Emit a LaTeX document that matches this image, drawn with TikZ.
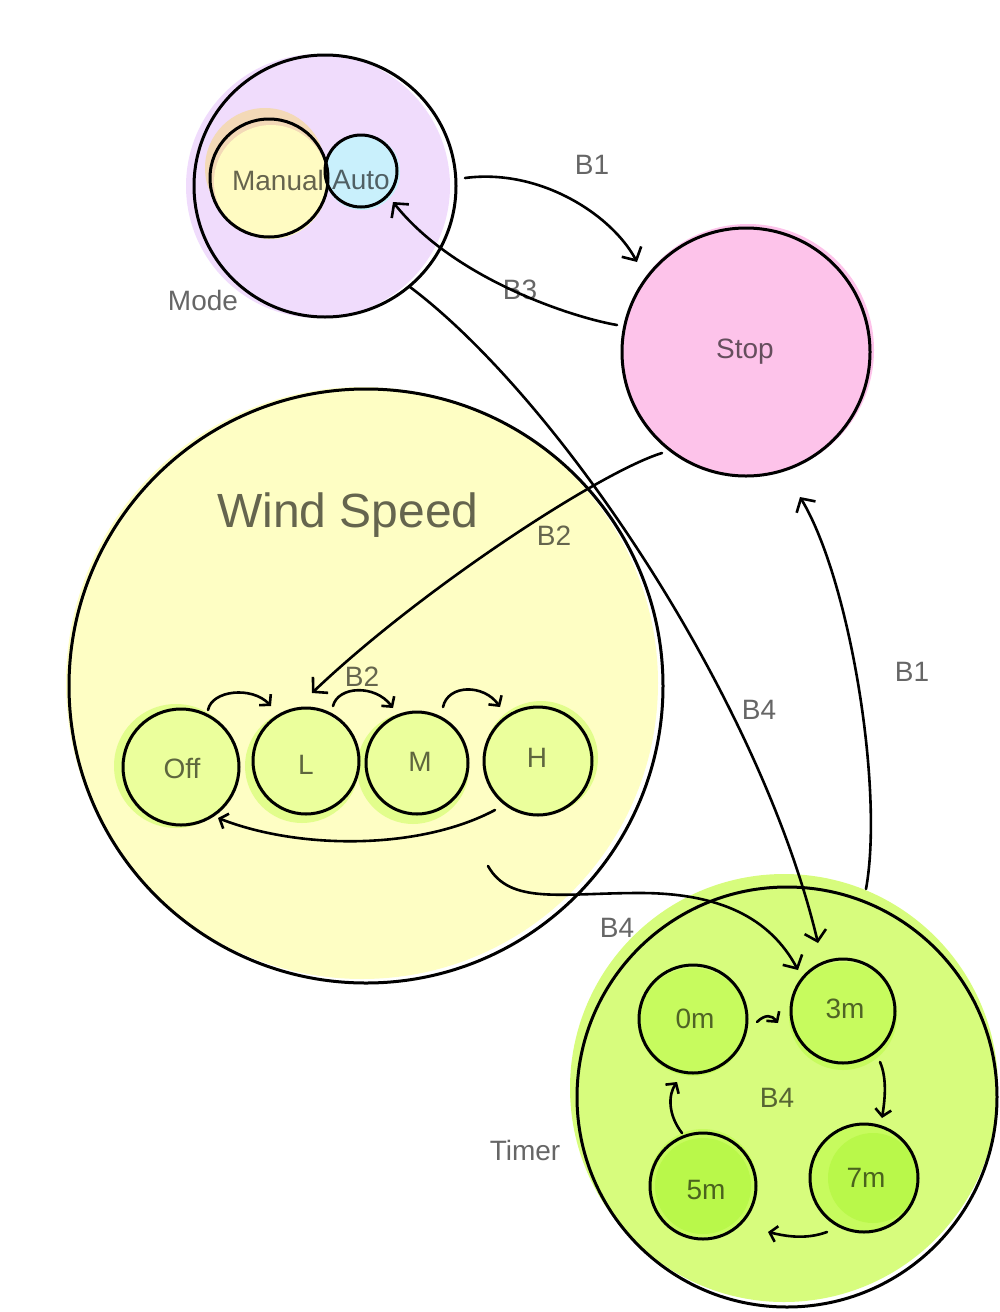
\documentclass[tikz,border=0pt]{standalone}
\usepackage{fontspec}
\setmainfont{Liberation Sans}
\usetikzlibrary{arrows.meta,calc}
\definecolor{modefill}{HTML}{F0DCFC}
\definecolor{tanfill}{HTML}{F3D9B7}
\definecolor{manualfill}{HTML}{FFFBC2}
\definecolor{autofill}{HTML}{C5F3FD}
\definecolor{stopfill}{HTML}{FDC3EA}
\definecolor{windfill}{HTML}{FEFEC4}
\definecolor{speedglow}{HTML}{E2FD8C}
\definecolor{speedfill}{HTML}{EBFF9C}
\definecolor{timerfill}{HTML}{D7FC7D}
\definecolor{minfill}{HTML}{C7FB5E}
\definecolor{mindark}{HTML}{B9F84A}
\begin{document}
\begin{tikzpicture}[x=0.5pt,y=-0.5pt,
  ring/.style={circle,draw=black,line width=1.5pt,inner sep=0pt},
  lbl/.style={text=black,text opacity=0.6,inner sep=0pt,font=\fontsize{14}{16}\selectfont},
  bigtitle/.style={text=black,text opacity=0.6,inner sep=0pt,font=\fontsize{24}{28}\selectfont},
  conn/.style={line width=1.3pt,line cap=round,line join=round,-{Straight Barb[length=5pt,width=11pt]}},
  minor/.style={line width=1.3pt,line cap=round,line join=round,-{Straight Barb[length=3.5pt,width=8pt]}}
]
\useasboundingbox (0,0) rectangle (1000,1312);
% ---------- fills ----------
\fill[modefill] (318,186) circle[radius=66pt];
\fill[tanfill] (265,168) circle[radius=30pt];
\fill[manualfill] (271,182) circle[radius=28.5pt];
\fill[autofill,opacity=0.9] (362,172) circle[radius=19pt];
\fill[stopfill] (748,350) circle[radius=63pt];
\fill[windfill] (362,683) circle[radius=148pt];
\fill[speedglow] (176,766) circle[radius=31pt];
\fill[speedglow] (302,766) circle[radius=28.5pt];
\fill[speedglow] (413,768) circle[radius=28pt];
\fill[speedglow] (541,758) circle[radius=28.5pt];
\fill[speedfill] (181,767) circle[radius=28pt];
\fill[speedfill] (306,761) circle[radius=25.5pt];
\fill[speedfill] (417,763) circle[radius=24.5pt];
\fill[speedfill] (538,761) circle[radius=26pt];
\fill[timerfill] (784,1088) circle[radius=107pt];
\fill[minfill] (693,1022) circle[radius=27pt];
\fill[minfill] (843,1016) circle[radius=27pt];
\fill[minfill] (703,1183) circle[radius=27pt];
\fill[mindark] (703,1186) circle[radius=24pt];
\fill[minfill] (864,1178) circle[radius=27pt];
\fill[mindark] (873,1178) circle[radius=22.5pt];
% ---------- outlines ----------
\node[ring,minimum size=131pt] (mode) at (325,186) {};
\node[ring,minimum size=59pt] (manual) at (269,178) {};
\node[ring,minimum size=36pt] (auto) at (361,171) {};
\node[ring,minimum size=124pt] (stop) at (746,352) {};
\node[ring,minimum size=297pt] (wind) at (366,686) {};
\node[ring,minimum size=58pt] (off) at (181,767) {};
\node[ring,minimum size=53pt] (low) at (306,761) {};
\node[ring,minimum size=51pt] (med) at (417,763) {};
\node[ring,minimum size=54pt] (high) at (538,761) {};
\node[ring,minimum size=210pt] (timer) at (787,1097) {};
\node[ring,minimum size=54pt] (m0) at (693,1019) {};
\node[ring,minimum size=52pt] (m3) at (843,1011) {};
\node[ring,minimum size=53pt] (m5) at (703,1186) {};
\node[ring,minimum size=54pt] (m7) at (864,1178) {};
% ---------- connectors ----------
% B1 mode -> stop
\draw[conn] ($(mode)+(140,-8)$) .. controls (540,168) and (612,215) .. ($(stop)+(-109,-90)$);
% B3 stop -> auto
\draw[conn] ($(stop)+(-129,-27)$) .. controls (575,318) and (455,280) .. ($(auto)+(32,31)$);
% B2 stop -> L
\draw[conn] ($(stop)+(-84,101)$) .. controls (600,472) and (420,590) .. ($(low)+(6,-68)$);
% B4 mode -> 3m
\draw[conn] ($(mode)+(85,101)$) .. controls (560,400) and (760,700) .. ($(m3)+(-25,-68)$);
% B1 timer -> stop
\draw[conn] ($(timer)+(79,-208)$) .. controls (884,790) and (850,580) .. ($(stop)+(54,145)$);
% B4 wind -> 3m
\draw[conn] ($(wind)+(122,180)$) .. controls (510,905) and (560,893) .. (640,893)
  .. controls (720,893) and (770,918) .. ($(m3)+(-45,-41)$);
% wind speed cycle
\draw[minor] ($(off)+(27,-57)$) .. controls (212,690) and (252,686) .. ($(low)+(-35,-55)$);
\draw[minor] ($(low)+(27,-55)$) .. controls (338,686) and (375,684) .. ($(med)+(-24,-55)$);
\draw[minor] ($(med)+(26,-56)$) .. controls (448,684) and (484,684) .. ($(high)+(-38,-54)$);
\draw[minor] ($(high)+(-43,49)$) .. controls (420,850) and (300,850) .. ($(off)+(37,51)$);
% timer cycle
\draw[minor] ($(m0)+(64,3)$) .. controls (765,1014) and (772,1015) .. ($(m3)+(-65,12)$);
\draw[minor] ($(m3)+(37,51)$) .. controls (888,1080) and (884,1105) .. ($(m7)+(18,-60)$);
\draw[minor] ($(m7)+(-37,54)$) .. controls (805,1240) and (785,1236) .. ($(m5)+(65,46)$);
\draw[minor] ($(m5)+(-21,-53)$) .. controls (668,1115) and (668,1095) .. ($(m0)+(-16,63)$);
% ---------- texts ----------
\node[lbl] (tmanual) at (278,180) {Manual};
\node[lbl] (tauto) at (361,180) {Auto};
\node[lbl] (tmode) at (203,300) {Mode};
\node[lbl] (tstop) at (745,352) {Stop};
\node[bigtitle] (twind) at (348,515) {Wind Speed};
\node[lbl] (toff) at (182,768) {Off};
\node[lbl] (tlow) at (306,765) {L};
\node[lbl] (tmed) at (420,762) {M};
\node[lbl] (thigh) at (537,758) {H};
\node[lbl] (tm0) at (695,1019) {0m};
\node[lbl] (tm3) at (845,1009) {3m};
\node[lbl] (tm5) at (706,1190) {5m};
\node[lbl] (tm7) at (866,1178) {7m};
\node[lbl] (ttimer) at (525,1150) {Timer};
\node[lbl] (lb1a) at (592,165) {B1};
\node[lbl] (lb3) at (520,290) {B3};
\node[lbl] (lb2a) at (554,536) {B2};
\node[lbl] (lb2b) at (362,677) {B2};
\node[lbl] (lb4a) at (759,710) {B4};
\node[lbl] (lb1b) at (912,672) {B1};
\node[lbl] (lb4b) at (617,928) {B4};
\node[lbl] (lb4c) at (777,1098) {B4};
\end{tikzpicture}
\end{document}
